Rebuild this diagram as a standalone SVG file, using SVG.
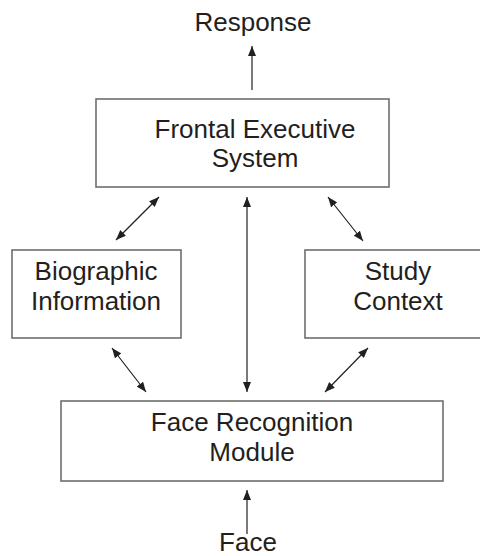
<svg xmlns="http://www.w3.org/2000/svg" width="480" height="556" viewBox="0 0 480 556">
<style>
.box{fill:#fff;stroke:#6e6e6e;stroke-width:1.6}
.lbl{font-family:"Liberation Sans",Arial,sans-serif;font-size:26px;fill:#231f20;text-anchor:middle}
.con{stroke:#231f20;stroke-width:1.2;fill:none}
</style>
<defs>
<marker id="ah" viewBox="0 0 10 8" refX="10" refY="4" markerWidth="10" markerHeight="8" markerUnits="userSpaceOnUse" orient="auto-start-reverse">
<path d="M0,0 L10,4 L0,8 Z" fill="#231f20"/>
</marker>
</defs>
<rect width="480" height="556" fill="#fff"/>
<g id="connectors">
<line class="con" x1="252" y1="90" x2="252" y2="46" marker-end="url(#ah)"/>
<line class="con" x1="116" y1="240" x2="159" y2="197" marker-start="url(#ah)" marker-end="url(#ah)"/>
<line class="con" x1="328" y1="197" x2="363" y2="241" marker-start="url(#ah)" marker-end="url(#ah)"/>
<line class="con" x1="247" y1="197" x2="247" y2="392" marker-start="url(#ah)" marker-end="url(#ah)"/>
<line class="con" x1="112" y1="348" x2="146" y2="392" marker-start="url(#ah)" marker-end="url(#ah)"/>
<line class="con" x1="368" y1="348" x2="325" y2="392" marker-start="url(#ah)" marker-end="url(#ah)"/>
<line class="con" x1="247" y1="534" x2="247" y2="490" marker-end="url(#ah)"/>
</g>
<g id="response"><text class="lbl" x="253" y="31">Response</text></g>
<g id="frontal">
<rect class="box" x="96" y="99" width="293" height="88"/>
<text class="lbl" x="255" y="138">Frontal Executive</text>
<text class="lbl" x="255" y="167">System</text>
</g>
<g id="biographic">
<rect class="box" x="12" y="250" width="169" height="88"/>
<text class="lbl" x="96" y="280">Biographic</text>
<text class="lbl" x="96" y="310">Information</text>
</g>
<g id="study">
<rect class="box" x="305" y="250" width="180" height="88"/>
<text class="lbl" x="398" y="280">Study</text>
<text class="lbl" x="398" y="310">Context</text>
</g>
<g id="facemodule">
<rect class="box" x="61" y="401" width="382" height="80"/>
<text class="lbl" x="252" y="431">Face Recognition</text>
<text class="lbl" x="252" y="461">Module</text>
</g>
<g id="face"><text class="lbl" x="248" y="551">Face</text></g>
</svg>
